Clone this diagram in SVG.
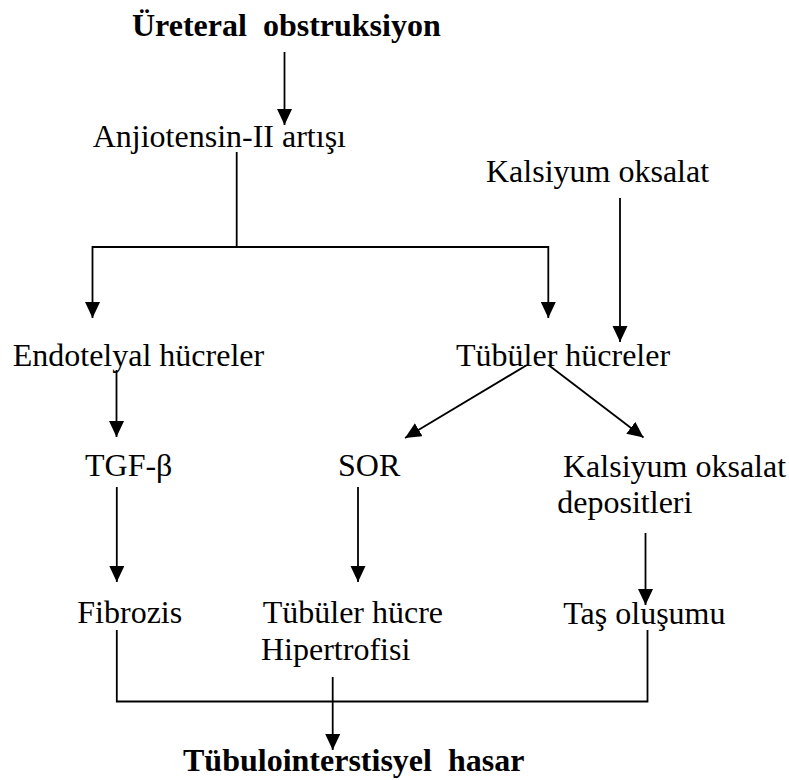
<svg xmlns="http://www.w3.org/2000/svg" width="789" height="780" viewBox="0 0 789 780">
<style>
text{font-family:"Liberation Serif","Times New Roman",serif;font-size:32px;fill:#000;white-space:pre}
.b{font-weight:bold}
.c{fill:none;stroke:#000;stroke-width:1.8}
</style>
<defs>
<marker id="ah" markerUnits="userSpaceOnUse" markerWidth="17" markerHeight="16" refX="16" refY="7.5" orient="auto" viewBox="0 0 17 16">
<path d="M0,0 L16,7.5 L0,15 Z" fill="#000"/>
</marker>
</defs>
<rect width="789" height="780" fill="#fff"/>
<g id="connectors">
<line class="c" x1="284.5" y1="52" x2="284.5" y2="125" marker-end="url(#ah)"/>
<polyline class="c" points="236.7,152 236.7,247 92.5,247 92.5,318" marker-end="url(#ah)"/>
<polyline class="c" points="236.7,247 548.3,247 548.3,318" marker-end="url(#ah)"/>
<line class="c" x1="620" y1="198" x2="620" y2="342" marker-end="url(#ah)"/>
<line class="c" x1="116.5" y1="370" x2="116.5" y2="437" marker-end="url(#ah)"/>
<line class="c" x1="527" y1="365" x2="405" y2="438" marker-end="url(#ah)"/>
<line class="c" x1="548.5" y1="365" x2="643.5" y2="437.5" marker-end="url(#ah)"/>
<line class="c" x1="116.8" y1="487" x2="116.8" y2="582" marker-end="url(#ah)"/>
<line class="c" x1="358" y1="487" x2="358" y2="582" marker-end="url(#ah)"/>
<line class="c" x1="645.5" y1="533" x2="645.5" y2="605" marker-end="url(#ah)"/>
<polyline class="c" points="116.8,630 116.8,701.5 647.5,701.5 647.5,630"/>
<line class="c" x1="332.7" y1="677" x2="332.7" y2="750" marker-end="url(#ah)"/>
</g>
<g id="n-ureteral"><text class="b" x="132" y="36">Üreteral  obstruksiyon</text></g>
<g id="n-anjiotensin"><text x="92.7" y="146.7">Anjiotensin-II artışı</text></g>
<g id="n-kalsiyum"><text x="486" y="181.7">Kalsiyum oksalat</text></g>
<g id="n-endotelyal"><text x="12.7" y="365.5">Endotelyal hücreler</text></g>
<g id="n-tubuler"><text x="456" y="366">Tübüler hücreler</text></g>
<g id="n-tgf"><text x="85" y="476">TGF-β</text></g>
<g id="n-sor"><text x="338" y="476">SOR</text></g>
<g id="n-deposit"><text x="563" y="476.7">Kalsiyum oksalat</text><text x="557.3" y="513">depositleri</text></g>
<g id="n-fibrozis"><text x="77.3" y="623.3">Fibrozis</text></g>
<g id="n-hipertrofi"><text x="262.7" y="623.3">Tübüler hücre</text><text x="261" y="660">Hipertrofisi</text></g>
<g id="n-tas"><text x="563.3" y="623.5">Taş oluşumu</text></g>
<g id="n-hasar"><text class="b" x="183" y="771">Tübulointerstisyel  hasar</text></g>
</svg>
